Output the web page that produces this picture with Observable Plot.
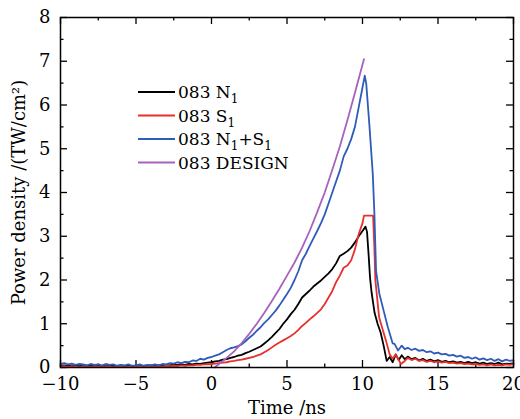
<!DOCTYPE html>
<html><head><meta charset="utf-8">
<script src="https://cdn.jsdelivr.net/npm/d3@7"></script>
<script src="https://cdn.jsdelivr.net/npm/@observablehq/plot@0.6"></script>
<style>body{margin:0;background:#fff} svg{font-family:"DejaVu Serif",serif}</style>
</head><body><div id="chart"></div>
<script>
const n1Time = [-10,-9.75,-9.5,-9.25,-9,-8.75,-8.5,-8.25,-8,-7.75,-7.5,-7.25,-7,-6.75,-6.5,-6.25,-6,-5.75,-5.5,-5.25,-5,-4.75,-4.5,-4.25,-4,-3.75,-3.5,-3.25,-3,-2.75,-2.5,-2.25,-2,-1.75,-1.5,-1.25,-1,-0.75,-0.5,-0.25,0,0.25,0.5,0.75,1,1.25,1.5,1.75,2,2.25,2.5,2.75,3,3.25,3.5,3.75,4,4.25,4.5,4.75,5,5.25,5.5,5.75,6,6.25,6.5,6.75,7,7.25,7.5,7.75,8,8.25,8.5,8.75,9,9.25,9.5,9.75,10,10.2,10.3,10.4,10.5,10.6,10.8,11,11.2,11.4,11.6,11.8,12,12.2,12.4,12.6,12.8,13,13.25,13.5,13.75,14,14.25,14.5,14.75,15,15.25,15.5,15.75,16,16.25,16.5,16.75,17,17.25,17.5,17.75,18,18.25,18.5,18.75,19,19.25,19.5,19.75,20];
const n1Power = [0.04,0.05,0.03,0.05,0.04,0.03,0.05,0.04,0.03,0.05,0.04,0.03,0.05,0.03,0.04,0.03,0.05,0.03,0.04,0.03,0.04,0.05,0.03,0.04,0.05,0.04,0.05,0.04,0.06,0.05,0.07,0.06,0.07,0.06,0.08,0.07,0.09,0.08,0.1,0.11,0.12,0.14,0.15,0.18,0.19,0.22,0.24,0.27,0.29,0.33,0.36,0.4,0.44,0.48,0.55,0.62,0.7,0.79,0.88,1.0,1.1,1.22,1.32,1.45,1.6,1.68,1.76,1.85,1.92,1.99,2.07,2.15,2.25,2.38,2.55,2.6,2.66,2.74,2.86,3.0,3.12,3.22,3.1,2.6,2.05,1.72,1.25,1.0,0.8,0.5,0.15,0.24,0.12,0.3,0.17,0.28,0.19,0.25,0.19,0.22,0.16,0.2,0.15,0.18,0.14,0.17,0.13,0.15,0.12,0.14,0.11,0.13,0.1,0.13,0.1,0.12,0.09,0.11,0.08,0.1,0.08,0.11,0.07,0.09,0.08,0.1];

const s1Time = [-10,-9.75,-9.5,-9.25,-9,-8.75,-8.5,-8.25,-8,-7.75,-7.5,-7.25,-7,-6.75,-6.5,-6.25,-6,-5.75,-5.5,-5.25,-5,-4.75,-4.5,-4.25,-4,-3.75,-3.5,-3.25,-3,-2.75,-2.5,-2.25,-2,-1.75,-1.5,-1.25,-1,-0.75,-0.5,-0.25,0,0.25,0.5,0.75,1,1.25,1.5,1.75,2,2.25,2.5,2.75,3,3.25,3.5,3.75,4,4.25,4.5,4.75,5,5.25,5.5,5.75,6,6.25,6.5,6.75,7,7.25,7.5,7.75,8,8.25,8.5,8.75,9,9.25,9.5,9.75,10,10.1,10.7,10.78,10.85,11.1,11.35,11.55,11.8,12,12.2,12.4,12.55,12.8,13,13.25,13.5,13.75,14,14.25,14.5,14.75,15,15.25,15.5,15.75,16,16.25,16.5,16.75,17,17.25,17.5,17.75,18,18.25,18.5,18.75,19,19.25,19.5,19.75,20];
const s1Power = [0.02,0.03,0.01,0.03,0.02,0.01,0.03,0.02,0.01,0.03,0.02,0.01,0.03,0.02,0.01,0.02,0.03,0.01,0.02,0.01,0.02,0.03,0.01,0.02,0.03,0.02,0.03,0.02,0.04,0.03,0.04,0.03,0.05,0.04,0.05,0.05,0.06,0.06,0.07,0.07,0.08,0.09,0.1,0.11,0.12,0.14,0.15,0.17,0.18,0.2,0.22,0.24,0.27,0.3,0.35,0.4,0.46,0.52,0.57,0.62,0.67,0.72,0.78,0.86,0.95,1.02,1.1,1.17,1.25,1.33,1.45,1.6,1.75,1.95,2.1,2.28,2.33,2.45,2.7,3.05,3.3,3.47,3.47,2.8,2.0,1.15,0.85,0.62,0.3,0.2,0.3,0.17,0.08,0.15,0.22,0.17,0.2,0.15,0.17,0.13,0.15,0.12,0.14,0.11,0.13,0.1,0.11,0.09,0.1,0.08,0.09,0.07,0.08,0.06,0.07,0.05,0.07,0.05,0.06,0.05,0.07,0.06,0.08];

const sumTime = [-10,-9.75,-9.5,-9.25,-9,-8.75,-8.5,-8.25,-8,-7.75,-7.5,-7.25,-7,-6.75,-6.5,-6.25,-6,-5.75,-5.5,-5.25,-5,-4.75,-4.5,-4.25,-4,-3.75,-3.5,-3.25,-3,-2.75,-2.5,-2.25,-2,-1.75,-1.5,-1.25,-1,-0.75,-0.5,-0.25,0,0.25,0.5,0.75,1,1.25,1.5,1.75,2,2.25,2.5,2.75,3,3.25,3.5,3.75,4,4.25,4.5,4.75,5,5.25,5.5,5.75,6,6.25,6.5,6.75,7,7.25,7.5,7.75,8,8.25,8.5,8.75,9,9.25,9.5,9.75,10,10.15,10.25,10.45,10.68,10.79,10.84,10.9,11.12,11.4,11.68,12,12.12,12.35,12.6,12.8,13,13.25,13.5,13.75,14,14.25,14.5,14.75,15,15.25,15.5,15.75,16,16.25,16.5,16.75,17,17.25,17.5,17.75,18,18.25,18.5,18.75,19,19.25,19.5,19.75,20];
const sumPower = [0.08,0.1,0.07,0.09,0.06,0.08,0.07,0.05,0.08,0.06,0.07,0.05,0.08,0.06,0.07,0.04,0.06,0.05,0.07,0.04,0.05,0.07,0.04,0.06,0.05,0.07,0.05,0.08,0.07,0.1,0.09,0.12,0.1,0.13,0.12,0.16,0.15,0.2,0.18,0.22,0.24,0.27,0.3,0.35,0.4,0.44,0.46,0.49,0.53,0.6,0.68,0.75,0.84,0.92,1.02,1.1,1.2,1.3,1.42,1.55,1.68,1.82,2.0,2.2,2.45,2.6,2.78,2.95,3.12,3.3,3.5,3.75,4.0,4.25,4.5,4.82,5.0,5.22,5.5,5.95,6.4,6.67,6.48,5.57,4.43,3.5,2.9,2.2,1.68,1.3,0.92,0.55,0.54,0.39,0.5,0.42,0.45,0.4,0.43,0.38,0.4,0.35,0.37,0.32,0.34,0.3,0.31,0.27,0.29,0.25,0.27,0.22,0.24,0.2,0.23,0.18,0.21,0.17,0.2,0.15,0.19,0.14,0.18,0.15,0.17];

const designTime = [0.2,0.5,1,1.5,2,2.5,3,3.5,4,4.5,5,5.5,6,6.5,7,7.5,8,8.5,9,9.5,10.1];
const designPower = [0,0.08,0.22,0.37,0.56,0.77,1.0,1.25,1.52,1.8,2.1,2.4,2.74,3.12,3.55,4.0,4.52,5.05,5.65,6.28,7.05];

const seriesKeys = ["N1", "S1", "N1+S1", "DESIGN"];
const seriesColors = ["#000000", "#e8302c", "#2f5cb8", "#a862bd"];
const legendParts = [
  [["083 N", false], ["1", true]],
  [["083 S", false], ["1", true]],
  [["083 N", false], ["1", true], ["+S", false], ["1", true]],
  [["083 DESIGN", false]]
];
const xMajorTicks = [-10, -5, 0, 5, 10, 15, 20];
const xMinorTicks = [-7.5, -2.5, 2.5, 7.5, 12.5, 17.5];
const yMajorTicks = [0, 1, 2, 3, 4, 5, 6, 7, 8];
const yMinorTicks = [0.5, 1.5, 2.5, 3.5, 4.5, 5.5, 6.5, 7.5];

const zip = (ts, vs, key) => ts.map((t, i) => ({time: t, power: vs[i], series: key}));
const rows = [
  ...zip(n1Time, n1Power, "N1"),
  ...zip(s1Time, s1Power, "S1"),
  ...zip(sumTime, sumPower, "N1+S1"),
  ...zip(designTime, designPower, "DESIGN")
];

const W = 520, H = 419, ML = 60, MR = 7, MT = 17, MB = 52;
const FW = W - ML - MR, FH = H - MT - MB;
const major = 7, minor = 3.5;

const chart = Plot.plot({
  width: W, height: H,
  marginLeft: ML, marginRight: MR, marginTop: MT, marginBottom: MB,
  style: {fontFamily: "DejaVu Serif, serif", fontSize: "18px", background: "white", overflow: "visible"},
  x: {domain: [-10, 20]},
  y: {domain: [0, 8]},
  color: {domain: seriesKeys, range: seriesColors},
  marks: [
    Plot.axisX(xMajorTicks, {tickSize: 0, tickPadding: 10, fontSize: 18, label: "Time /ns", labelAnchor: "center", labelOffset: 46, labelArrow: "none"}),
    Plot.axisY(yMajorTicks, {tickSize: 0, tickPadding: 10, fontSize: 18, label: "Power density /(TW/cm²)", labelAnchor: "center", labelOffset: 48, labelArrow: "none"}),
    Plot.ruleX(xMajorTicks, {x: d => d, insetTop: FH - major, stroke: "black", strokeWidth: 1.3}),
    Plot.ruleX(xMinorTicks, {x: d => d, insetTop: FH - minor, stroke: "black", strokeWidth: 1.3}),
    Plot.ruleX(xMajorTicks, {x: d => d, insetBottom: FH - major, stroke: "black", strokeWidth: 1.3}),
    Plot.ruleX(xMinorTicks, {x: d => d, insetBottom: FH - minor, stroke: "black", strokeWidth: 1.3}),
    Plot.ruleY(yMajorTicks, {y: d => d, insetRight: FW - major, stroke: "black", strokeWidth: 1.3}),
    Plot.ruleY(yMinorTicks, {y: d => d, insetRight: FW - minor, stroke: "black", strokeWidth: 1.3}),
    Plot.ruleY(yMajorTicks, {y: d => d, insetLeft: FW - major, stroke: "black", strokeWidth: 1.3}),
    Plot.ruleY(yMinorTicks, {y: d => d, insetLeft: FW - minor, stroke: "black", strokeWidth: 1.3}),
    Plot.line(rows, {x: "time", y: "power", z: "series", stroke: "series", strokeWidth: 1.8, strokeLinejoin: "round", curve: "linear"}),
    Plot.frame({stroke: "black", strokeWidth: 1.5})
  ]
});
document.getElementById("chart").appendChild(chart);

// Legend inside the plot area
const svg = d3.select(chart.tagName.toLowerCase() === "svg" ? chart : chart.querySelector("svg"));
const lg = svg.append("g").attr("font-family", "DejaVu Serif, serif").attr("font-size", 17).attr("text-anchor", "start");
const lx0 = 138, lx1 = 175, ly0 = 92, ldy = 23.5;
seriesKeys.forEach((k, i) => {
  const y = ly0 + i * ldy;
  lg.append("line").attr("x1", lx0).attr("x2", lx1).attr("y1", y).attr("y2", y)
    .attr("stroke", seriesColors[i]).attr("stroke-width", 2);
  const t = lg.append("text").attr("x", lx1 + 3).attr("y", y + 6).attr("fill", "black").attr("text-anchor", "start");
  let sub = false;
  legendParts[i].forEach(([s, isSub]) => {
    const ts = t.append("tspan").text(s);
    if (isSub && !sub) { ts.attr("dy", 5).attr("font-size", 12); sub = true; }
    else if (isSub) { ts.attr("font-size", 12); }
    else if (!isSub && sub) { ts.attr("dy", -5); sub = false; }
  });
});
</script>
</body></html>
